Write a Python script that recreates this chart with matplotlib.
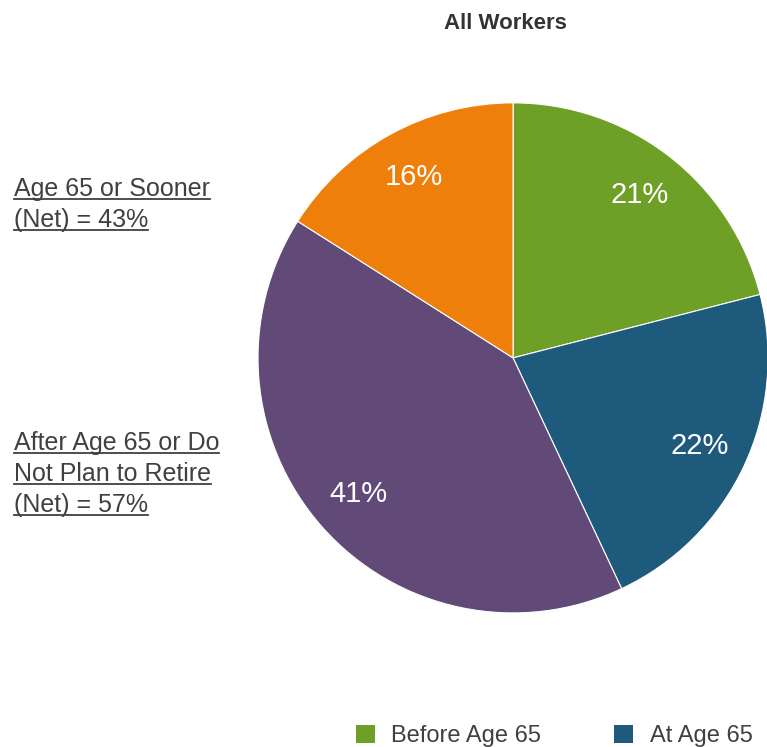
import matplotlib
matplotlib.use("Agg")
import matplotlib.pyplot as plt
from matplotlib.lines import Line2D
from matplotlib.patches import Patch

plt.rcParams["font.family"] = ["Liberation Sans", "DejaVu Sans"]

labels = ["Before Age 65", "At Age 65", "After Age 65", "Do Not Plan to Retire"]
shares = [21, 22, 41, 16]
colors = ["#6e9f26", "#1e5a7c", "#614a78", "#ee7f0b"]
legend_shown = ["Before Age 65", "At Age 65"]
net_notes = [
    ["Age 65 or Sooner", "(Net) = 43%"],
    ["After Age 65 or Do", "Not Plan to Retire", "(Net) = 57%"],
]
TEXT = "#404040"

fig = plt.figure(figsize=(7.67, 7.47), dpi=100)
ax = fig.add_axes([0.3364, 0.1794, 0.665, 0.683])

wedges, _, autotexts = ax.pie(
    shares, colors=colors, startangle=90, counterclock=False,
    autopct=lambda p: f"{p:.0f}%", pctdistance=0.81,
    wedgeprops=dict(edgecolor="white", linewidth=0.8),
    textprops=dict(color="white", fontsize=21),
)
ax.set_xlim(-1, 1)
ax.set_ylim(-1, 1)
ax.set_aspect("equal")

fig.text(0.659, 0.969, "All Workers", ha="center", va="center",
         fontsize=16, fontweight="bold", color="#333333")

# left-hand net notes, underlined
note_tops = [0.747, 0.407]
line_step = 0.0415
texts = []
for top, lines in zip(note_tops, net_notes):
    for i, line in enumerate(lines):
        t = fig.text(0.018, top - i * line_step, line, ha="left", va="center",
                     fontsize=18, color=TEXT)
        texts.append(t)

fig.canvas.draw()
renderer = fig.canvas.get_renderer()
inv = fig.transFigure.inverted()
for t in texts:
    bb = t.get_window_extent(renderer)
    (x0, y0), (x1, y1) = inv.transform([(bb.x0, bb.y0), (bb.x1, bb.y1)])
    fig.add_artist(Line2D([x0, x1], [y0 + 0.002, y0 + 0.002],
                          transform=fig.transFigure, color=TEXT, linewidth=1.3))

handles = [Patch(facecolor=colors[labels.index(n)], label=n) for n in legend_shown]
fig.legend(handles=handles, loc="lower left", bbox_to_anchor=(0.436, -0.029),
           ncol=2, frameon=False, fontsize=17, handlelength=0.8, handleheight=0.8,
           handletextpad=0.7, columnspacing=3.1, labelcolor=TEXT)

fig.savefig("out.png", dpi=100)
